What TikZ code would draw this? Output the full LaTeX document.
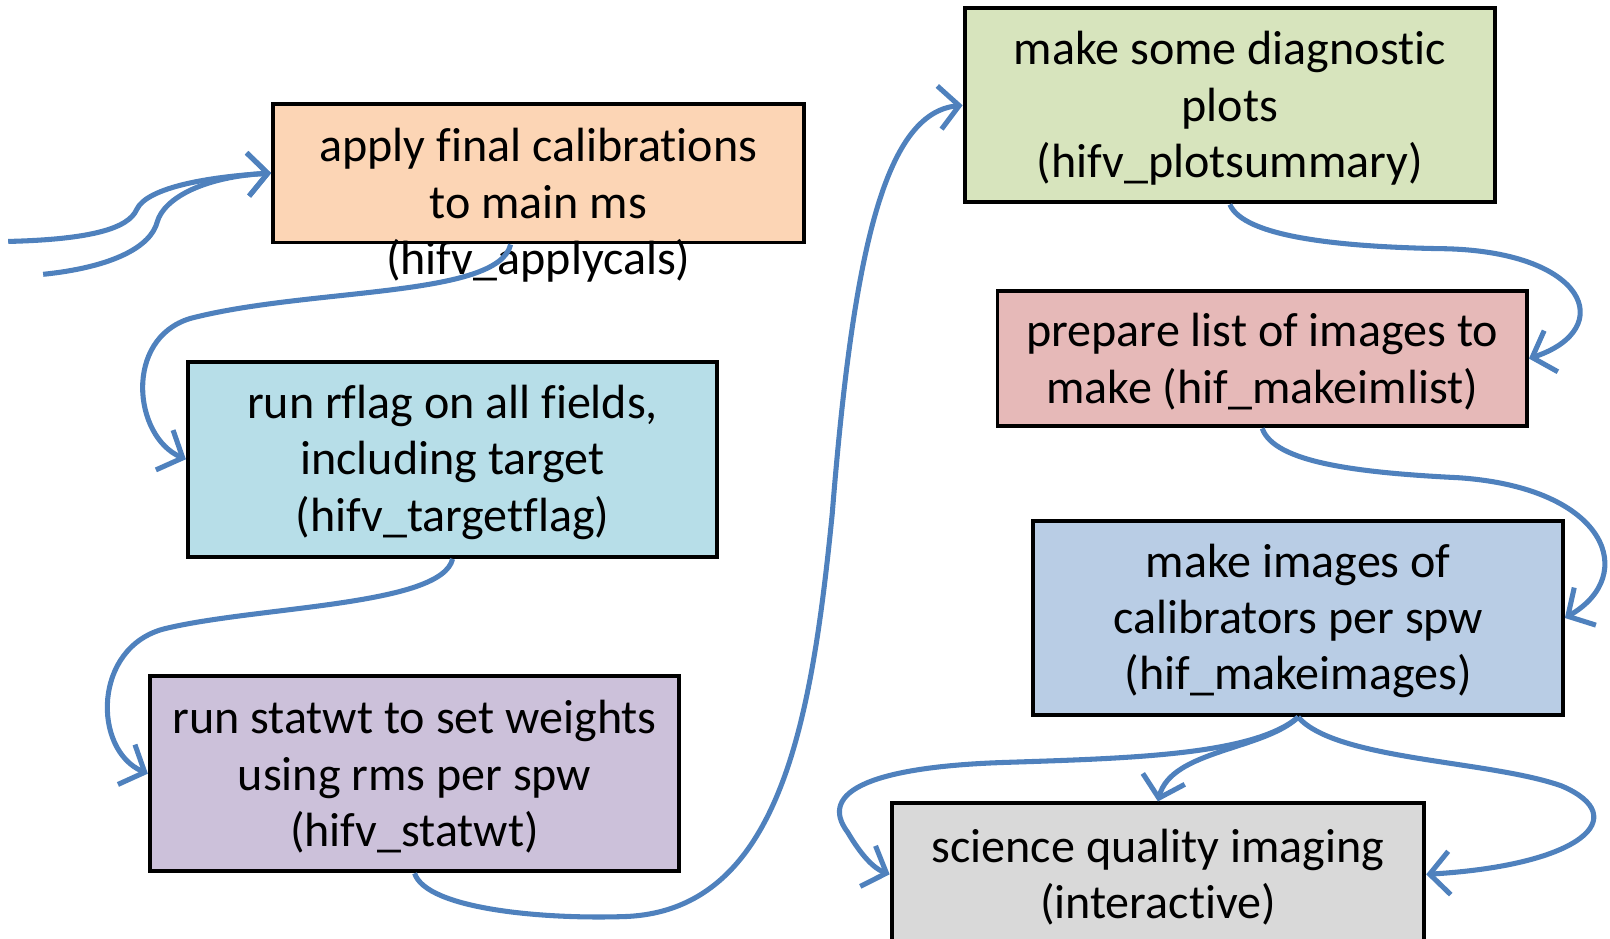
\documentclass[tikz,border=0pt]{standalone}
\usepackage{fontspec}
\setmainfont{Carlito}[RawFeature=-liga]
\usetikzlibrary{arrows.meta}
\usepackage{xcolor}
\definecolor{peach}{HTML}{FCD5B5}
\definecolor{skyb}{HTML}{B7DEE8}
\definecolor{lav}{HTML}{CCC1DA}
\definecolor{lgreen}{HTML}{D7E4BD}
\definecolor{rose}{HTML}{E6B9B8}
\definecolor{steel}{HTML}{B9CDE5}
\definecolor{lgrey}{HTML}{D9D9D9}
\definecolor{flowblue}{HTML}{4F81BD}

\begin{document}
\begin{tikzpicture}[x=0.01cm,y=-0.01cm,
  box/.style={draw, line width=1.1pt, inner sep=0pt, align=center, font=\fontsize{13.3}{15.6}\selectfont},
  flow/.style={draw=flowblue, line width=1.4pt, -{Straight Barb[length=5.5pt,width=12pt]}}]
\useasboundingbox (0,0) rectangle (1567,913);

\node[box, fill=peach, minimum width=5.16cm, minimum height=1.35cm] (Apply) at (524,168.5) {};
\node[align=center, font=\fontsize{13.3}{15.6}\selectfont] (ApplyTxt) at (524,200) {apply final calibrations\\to main ms\\(hifv\_applycals)};

\node[box, fill=skyb, minimum width=5.15cm, minimum height=1.9cm] (Flag) at (440.5,447) {\strut run rflag on all fields,\\including target\\(hifv\_targetflag)};
\node[box, fill=lav, minimum width=5.15cm, minimum height=1.9cm] (Wt) at (403.5,753) {\strut run statwt to set weights\\using rms per spw\\(hifv\_statwt)};

\node[box, fill=lgreen, minimum width=5.16cm, minimum height=1.89cm] (Plot) at (1197,102.5) {\strut make some diagnostic\\plots\\(hifv\_plotsummary)};
\node[box, fill=rose, minimum width=5.15cm, minimum height=1.32cm] (List) at (1228.5,349) {\strut prepare list of images to\\make (hif\_makeimlist)};
\node[box, fill=steel, minimum width=5.15cm, minimum height=1.89cm] (Img) at (1263.5,601.5) {\strut make images of\\calibrators per spw\\(hif\_makeimages)};
\node[box, fill=lgrey, minimum width=5.18cm, minimum height=1.38cm] (Sci) at (1127,851) {\strut science quality imaging\\(interactive)};

% incoming
\coordinate (In1) at (8,235);
\coordinate (In2) at (42,267);
\draw[flow] (In1) .. controls (90,233) and (125,222) .. (133,204) .. controls (143,182) and (205,172) .. (Apply.west);
\draw[flow] (In2) .. controls (110,260) and (147,240) .. (153,216) .. controls (160,192) and (200,172) .. (Apply.west);

% left column
\draw[flow] ([xshift=-0.27cm]Apply.south) .. controls (485,290) and (300,280) .. (185,310) .. controls (120,330) and (130,425) .. (Flag.west);
\draw[flow] (Flag.south) .. controls (430,590) and (250,590) .. (160,612) .. controls (90,630) and (90,730) .. (Wt.west);
\draw[flow] (Wt.south) .. controls (415,885) and (530,895) .. (610,892) .. controls (760,885) and (790,700) .. (810,500) .. controls (830,250) and (860,110) .. (Plot.west);

% right column
\draw[flow] (Plot.south) .. controls (1210,230) and (1300,240) .. (1400,242) .. controls (1545,243) and (1575,320) .. (List.east);
\draw[flow] (List.south) .. controls (1240,450) and (1320,460) .. (1420,465) .. controls (1565,475) and (1595,560) .. (Img.east);

\draw[flow] (Img.south) .. controls (1230,730) and (1140,730) .. (Sci.north);
\draw[flow] (Img.south) .. controls (1220,735) and (1100,738) .. (980,742) .. controls (850,746) and (795,770) .. (825,810) .. controls (838,832) and (850,845) .. (Sci.west);
\draw[flow] (Img.south) .. controls (1300,740) and (1450,740) .. (1520,765) .. controls (1590,795) and (1540,842) .. (Sci.east);

\end{tikzpicture}
\end{document}
